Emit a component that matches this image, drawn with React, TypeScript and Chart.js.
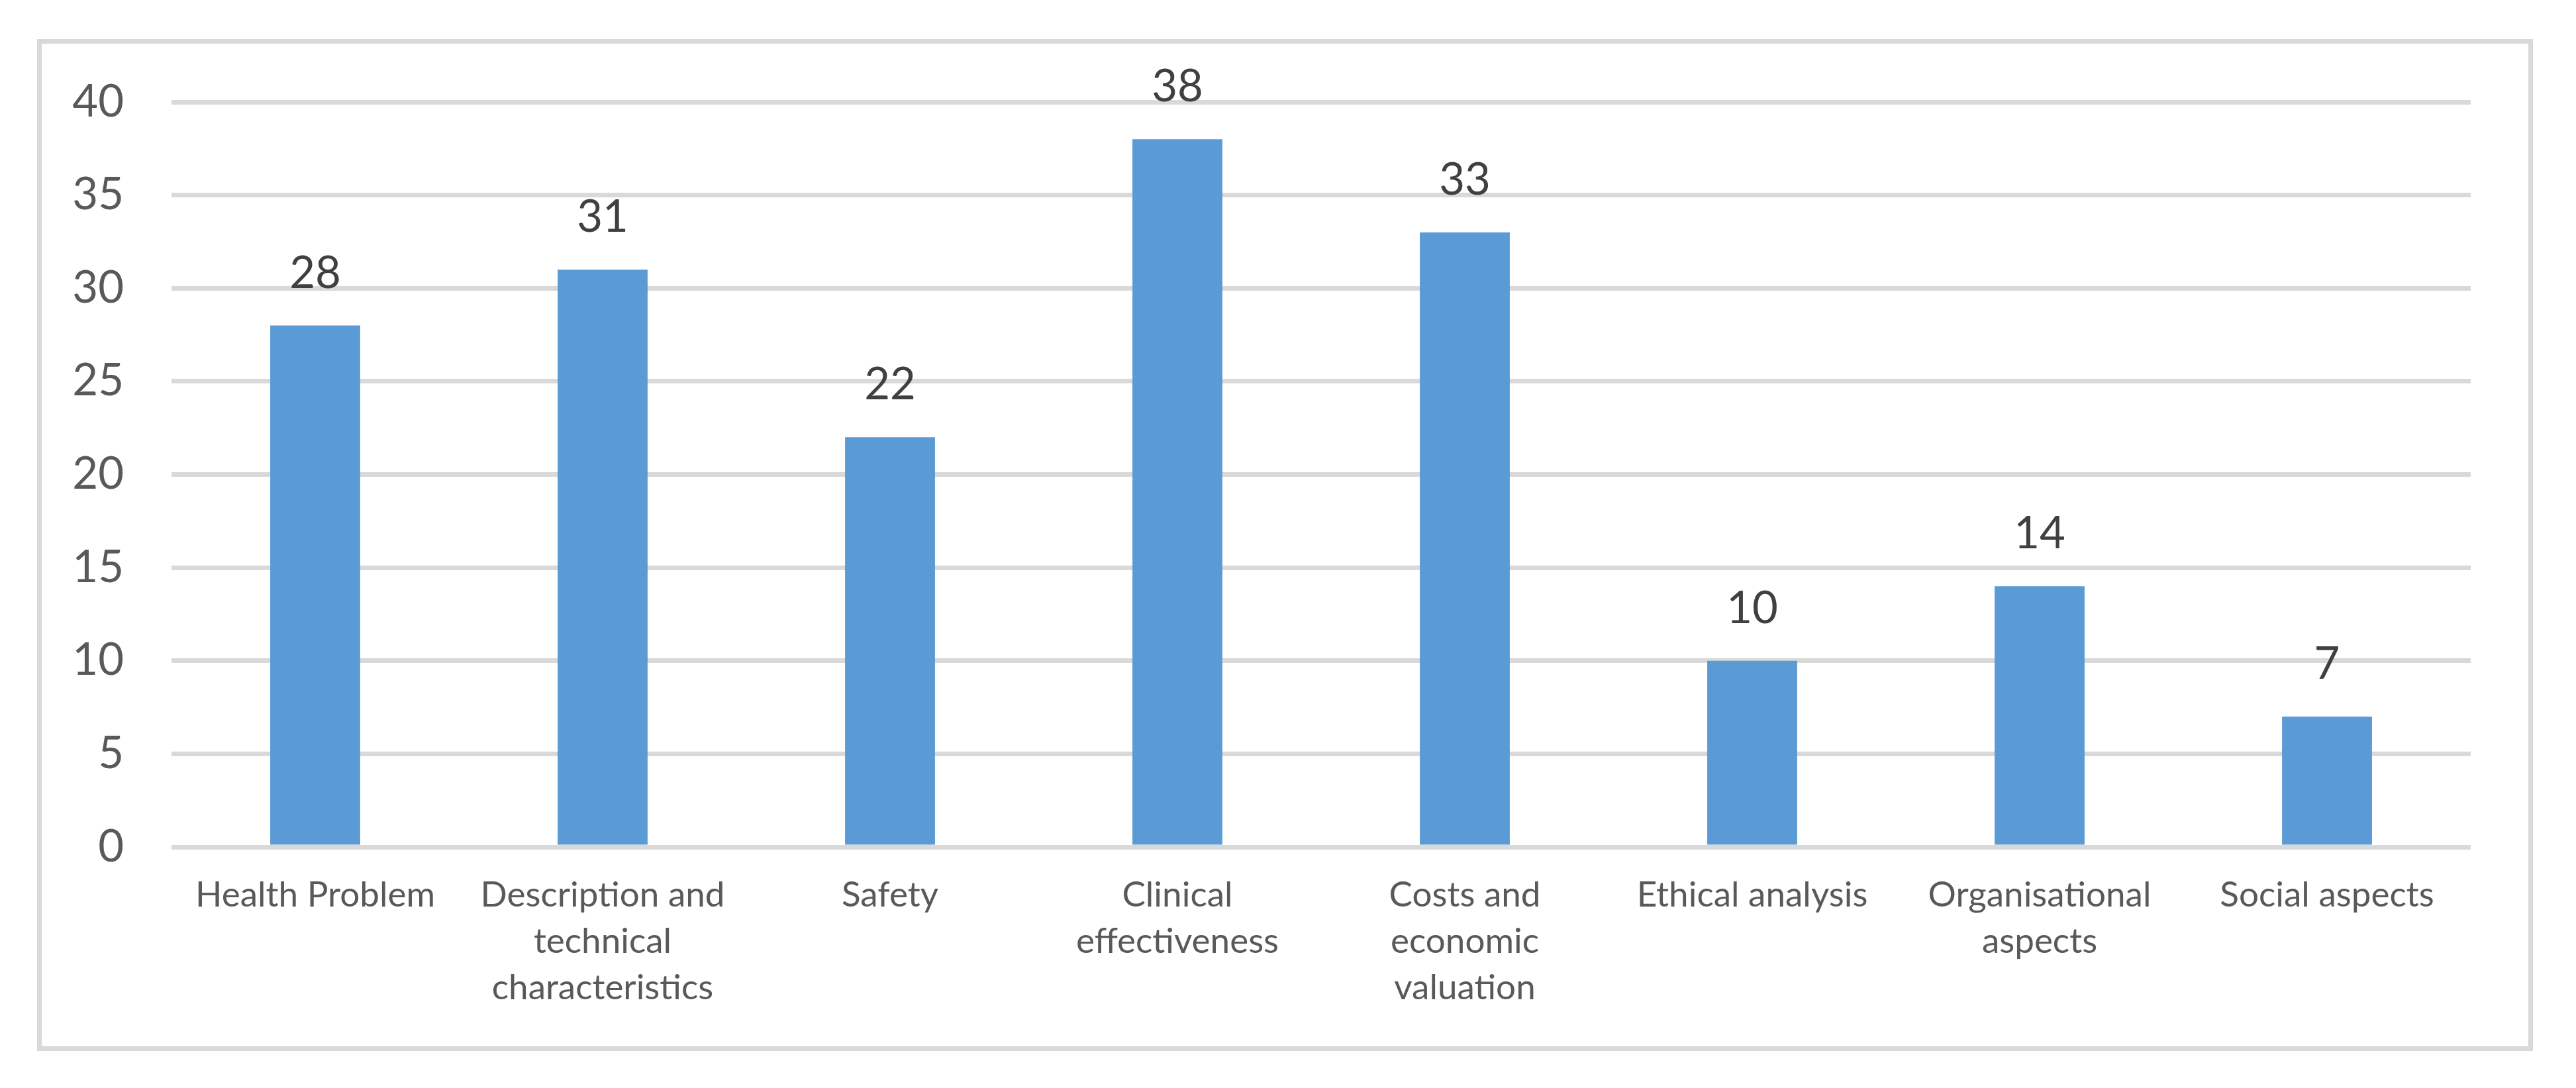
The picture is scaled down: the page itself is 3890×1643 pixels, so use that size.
import React, { useEffect, useRef } from "react";
import { Chart, registerables } from "chart.js";

Chart.register(...registerables);

const categories: string[][] = [
  ["Health Problem"],
  ["Description and", "technical", "characteristics"],
  ["Safety"],
  ["Clinical", "effectiveness"],
  ["Costs and", "economic", "valuation"],
  ["Ethical analysis"],
  ["Organisational", "aspects"],
  ["Social aspects"],
];
const values: number[] = [28, 31, 22, 38, 33, 10, 14, 7];
const yTicks: number[] = [0, 5, 10, 15, 20, 25, 30, 35, 40];

const W = 3890;
const H = 1643;

export default function App() {
  const ref = useRef<HTMLCanvasElement | null>(null);

  useEffect(() => {
    document.body.style.margin = "0";
    const canvas = ref.current;
    if (!canvas) return;

    const framePlugin = {
      id: "frame",
      beforeDraw(chart: any) {
        const ctx = chart.ctx;
        ctx.save();
        ctx.fillStyle = "#ffffff";
        ctx.fillRect(0, 0, W, H);
        ctx.strokeStyle = "#d9d9d9";
        ctx.lineWidth = 7;
        ctx.strokeRect(59.5, 62.5, 3762, 1521);
        ctx.restore();
      },
    };

    const labelPlugin = {
      id: "barLabels",
      afterDatasetsDraw(chart: any) {
        const ctx = chart.ctx;
        const meta = chart.getDatasetMeta(0);
        ctx.save();
        ctx.font = "67px Lato";
        ctx.fillStyle = "#404040";
        ctx.textAlign = "center";
        ctx.textBaseline = "alphabetic";
        meta.data.forEach((bar: any, i: number) => {
          ctx.fillText(String(values[i]), bar.x, bar.y - 57);
        });
        ctx.restore();
      },
    };

    const chart = new Chart(canvas, {
      type: "bar",
      data: {
        labels: categories,
        datasets: [
          {
            data: values,
            backgroundColor: "#5b9bd5",
            borderWidth: 0,
            barPercentage: 0.313,
            categoryPercentage: 1,
          },
        ],
      },
      options: {
        animation: false,
        responsive: false,
        devicePixelRatio: 1,
        layout: { padding: { top: 154, right: 159, left: 0, bottom: 0 } },
        plugins: {
          legend: { display: false },
          title: { display: false },
          tooltip: { enabled: false },
        },
        scales: {
          x: {
            grid: { display: false, drawTicks: false },
            border: { display: false },
            ticks: {
              color: "#595959",
              font: { family: "Lato", size: 53, lineHeight: 70 / 53 },
              padding: 38,
              maxRotation: 0,
              minRotation: 0,
              autoSkip: false,
            },
            afterFit(scale: any) {
              scale.height = H - 1279;
            },
          },
          y: {
            min: 0,
            max: 40,
            afterBuildTicks(scale: any) {
              scale.ticks = yTicks.map((v) => ({ value: v }));
            },
            grid: { color: "#d9d9d9", lineWidth: 7, drawTicks: false },
            border: { display: false },
            ticks: {
              color: "#595959",
              font: { family: "Lato", size: 67 },
              padding: 72,
            },
            afterFit(scale: any) {
              scale.width = 259;
            },
          },
        },
      },
      plugins: [framePlugin, labelPlugin],
    });

    return () => {
      chart.destroy();
    };
  }, []);

  return (
    <div style={{ width: W, height: H, position: "relative" }}>
      <canvas ref={ref} width={W} height={H} style={{ width: W, height: H, display: "block" }} />
    </div>
  );
}
